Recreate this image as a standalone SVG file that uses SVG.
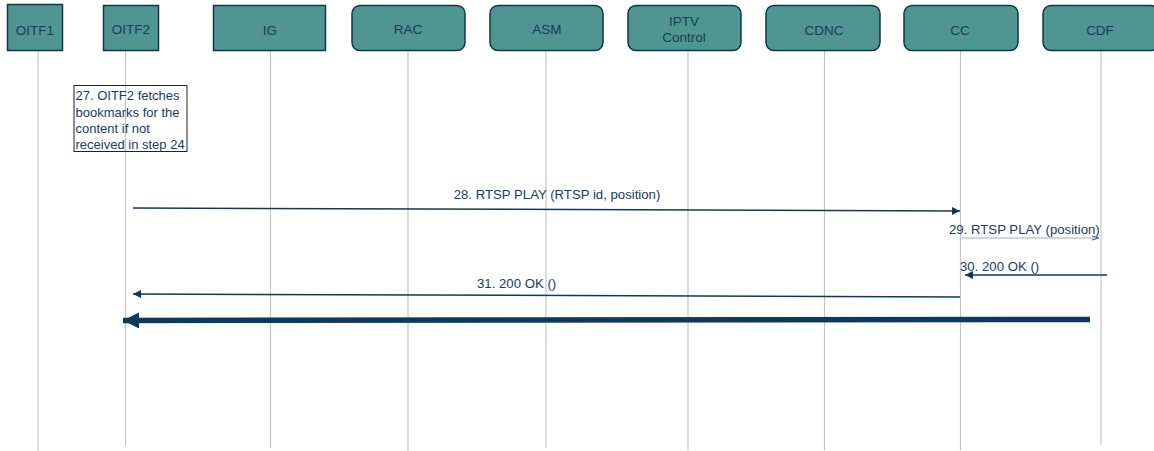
<svg xmlns="http://www.w3.org/2000/svg" width="1154" height="451" viewBox="0 0 1154 451">
<defs>
<style>
.box{fill:#4f9690;stroke:#12344f;stroke-width:1.5}
.lbl{font-family:"Liberation Sans",Arial,sans-serif;font-size:13.5px;fill:#1b3a5c;text-anchor:middle}
.life{stroke:#c4c4c4;stroke-width:1.2}
.msg{stroke:#0d3a5c;stroke-width:1.5;fill:none}
.mtxt{font-family:"Liberation Sans",Arial,sans-serif;font-size:13.2px;fill:#1b3a5c}
.note{font-family:"Liberation Sans",Arial,sans-serif;font-size:13px;fill:#1b3a5c}
</style>
<marker id="ah" viewBox="0 0 10 10" refX="10" refY="5" markerWidth="8" markerHeight="8" markerUnits="userSpaceOnUse" orient="auto"><path d="M0,0 L10,5 L0,10 z" fill="#0d3a5c"/></marker>
<marker id="ahThin" viewBox="0 0 10 10" refX="10" refY="5" markerWidth="7" markerHeight="7" markerUnits="userSpaceOnUse" orient="auto"><path d="M0,2 L10,5 L0,8" fill="none" stroke="#3a5f80" stroke-width="1.5"/></marker>
<marker id="ahBig" viewBox="0 0 10 10" refX="10" refY="5" markerWidth="16" markerHeight="16" markerUnits="userSpaceOnUse" orient="auto"><path d="M0,0 L10,5 L0,10 z" fill="#0d3a5c"/></marker>
</defs>
<rect width="1154" height="451" fill="#ffffff"/>
<g id="lifelines">
<line class="life" x1="38" y1="51" x2="38" y2="451"/>
<line class="life" x1="125.5" y1="51" x2="125.5" y2="446"/>
<line class="life" x1="270.5" y1="51" x2="270.5" y2="448"/>
<line class="life" x1="408" y1="51" x2="408" y2="451"/>
<line class="life" x1="546" y1="51" x2="546" y2="448"/>
<line class="life" x1="688" y1="51" x2="688" y2="450"/>
<line class="life" x1="824.5" y1="51" x2="824.5" y2="450"/>
<line class="life" x1="960.5" y1="51" x2="960.5" y2="450"/>
<line class="life" x1="1101" y1="51" x2="1101" y2="445"/>
</g>
<g id="OITF1"><rect class="box" x="7.5" y="4.5" width="55" height="46"/><text class="lbl" x="35" y="35">OITF1</text></g>
<g id="OITF2"><rect class="box" x="103.5" y="5.5" width="55" height="45"/><text class="lbl" x="131" y="34">OITF2</text></g>
<g id="IG"><rect class="box" x="213.5" y="5.5" width="112" height="45"/><text class="lbl" x="270" y="35">IG</text></g>
<g id="RAC"><rect class="box" x="352" y="5.5" width="113" height="45" rx="8"/><text class="lbl" x="408" y="34">RAC</text></g>
<g id="ASM"><rect class="box" x="490" y="5.5" width="113" height="45" rx="8"/><text class="lbl" x="547" y="34">ASM</text></g>
<g id="IPTVControl"><rect class="box" x="628" y="5.5" width="113" height="45" rx="8"/><text class="lbl" x="684" y="26">IPTV</text><text class="lbl" x="684" y="42">Control</text></g>
<g id="CDNC"><rect class="box" x="766" y="5.5" width="114" height="45" rx="8"/><text class="lbl" x="824" y="35">CDNC</text></g>
<g id="CC"><rect class="box" x="904" y="5.5" width="114" height="45" rx="8"/><text class="lbl" x="960" y="35">CC</text></g>
<g id="CDF"><rect class="box" x="1043" y="5.5" width="116" height="45" rx="8"/><text class="lbl" x="1100" y="35">CDF</text></g>
<g id="note27">
<rect x="74" y="85.5" width="113" height="66" fill="#ffffff" fill-opacity="0" stroke="#222222" stroke-width="1"/>
<text class="note" x="75.5" y="100">27. OITF2 fetches</text>
<text class="note" x="75.5" y="116.5">bookmarks for the</text>
<text class="note" x="75.5" y="133">content if not</text>
<text class="note" x="75.5" y="149">received in step 24</text>
</g>
<g id="connectors">
<line class="msg" x1="133" y1="208" x2="960" y2="211" marker-end="url(#ah)"/>
<text class="mtxt" x="557" y="199" text-anchor="middle">28. RTSP PLAY (RTSP id, position)</text>
<line x1="962" y1="238" x2="1099" y2="238" stroke="#9fb2c4" stroke-width="1.2" marker-end="url(#ahThin)"/>
<text class="mtxt" x="949" y="234">29. RTSP PLAY (position)</text>
<line class="msg" x1="1107" y1="275" x2="965" y2="275" marker-end="url(#ah)"/>
<text class="mtxt" x="960" y="271">30. 200 OK ()</text>
<line class="msg" x1="960" y1="297" x2="133" y2="294" marker-end="url(#ah)"/>
<text class="mtxt" x="477" y="288">31. 200 OK ()</text>
<line x1="1090" y1="319.5" x2="123" y2="320.5" stroke="#0d3a5c" stroke-width="5.5" marker-end="url(#ahBig)"/>
</g>
</svg>
